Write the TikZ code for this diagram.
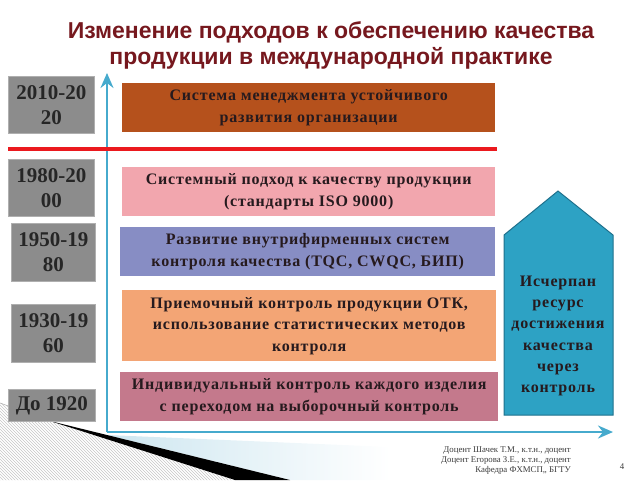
\documentclass[tikz,border=0pt]{standalone}
\usepackage{fontspec}
\setmainfont{Liberation Serif}
\newfontfamily\titlefont{Liberation Sans}
\newfontfamily\boxfont[LetterSpace=5]{Liberation Serif}
\usetikzlibrary{arrows.meta,patterns}
\definecolor{titlered}{RGB}{118,24,30}
\definecolor{yeargray}{RGB}{140,140,140}
\definecolor{yearedge}{RGB}{175,175,175}
\definecolor{cbrown}{RGB}{181,81,28}
\definecolor{cpink}{RGB}{242,166,174}
\definecolor{cslate}{RGB}{135,141,196}
\definecolor{corange}{RGB}{243,165,117}
\definecolor{cmauve}{RGB}{196,121,140}
\definecolor{boxtext}{RGB}{38,26,30}
\definecolor{pentfill}{RGB}{45,162,196}
\definecolor{pentedge}{RGB}{30,112,140}
\definecolor{axisblue}{RGB}{70,170,205}
\definecolor{redline}{RGB}{235,25,30}
\definecolor{paleblue}{RGB}{205,230,240}
\definecolor{foot}{RGB}{60,60,60}
\begin{document}
\begin{tikzpicture}[x=1pt,y=-1pt,
  yearbox/.style={fill=yeargray, draw=yearedge, line width=0.8pt, anchor=north west,
    inner sep=0pt, align=center, text=black!85,
    font=\bfseries\fontsize{21}{25}\selectfont},
  cbox/.style={anchor=north west, inner sep=0pt, align=center, text=boxtext,
    minimum height=49pt, font=\boxfont\bfseries\fontsize{16}{21.5}\selectfont},
  axisline/.style={draw=axisblue, line width=2.5pt,
    -{Stealth[length=15pt,width=13pt,inset=5pt]}},
  pentshape/.style={fill=pentfill, draw=pentedge, line width=1pt},
  penttext/.style={align=center, text=boxtext, font=\boxfont\bfseries\fontsize{16}{21.3}\selectfont},
  foottext/.style={align=right, text=foot, font=\fontsize{8.8}{10}\selectfont, inner sep=0pt}]
\useasboundingbox (0,0) rectangle (640,480);

% decoration bottom-left
\shade[left color=paleblue, right color=white] (107,435) -- (390,447) -- (390,480) -- (290,480) -- cycle;
\fill[pattern=north west lines, pattern color=gray!45] (0,403) -- (50,421) -- (235,480) -- (0,480) -- cycle;
\draw[gray!60, line width=0.6pt] (0,403) -- (50,421);
\fill[black] (50,421) -- (290,480) -- (235,480) -- cycle;

% title
\node[align=center, text=titlered, font=\titlefont\bfseries\fontsize{23}{26}\selectfont] (title) at (331,45)
  {Изменение подходов к обеспечению качества\\продукции в международной практике};

% axes
\coordinate (o) at (107,432);
\coordinate (ytip) at (107,73);
\coordinate (xtip) at (613,432);
\draw[axisline] (o) -- (ytip);
\draw[axisline] (o) -- (xtip);

% red line
\coordinate (r1) at (8,149);
\coordinate (r2) at (497,149);
\draw[redline, line width=4pt] (r1) -- (r2);

% year boxes
\node[yearbox, minimum width=86pt, minimum height=57pt] (y1) at (8,76) {2010-20\\20};
\node[yearbox, minimum width=86pt, minimum height=57pt] (y2) at (8,159) {1980-20\\00};
\node[yearbox, minimum width=84pt, minimum height=58pt] (y3) at (11,223) {1950-19\\80};
\node[yearbox, minimum width=84pt, minimum height=58pt] (y4) at (11,304) {1930-19\\60};
\node[yearbox, minimum width=87pt, minimum height=32pt] (y5) at (8,389) {До 1920};

% content boxes
\node[cbox, fill=cbrown, minimum width=373pt] (b1) at (122,83)
  {Система менеджмента устойчивого\\развития организации};
\node[cbox, fill=cpink, minimum width=373pt] (b2) at (122,167)
  {Системный подход к качеству продукции\\(стандарты ISO 9000)};
\node[cbox, fill=cslate, minimum width=375pt] (b3) at (120,227)
  {Развитие внутрифирменных систем\\контроля качества (TQC, CWQC, БИП)};
\node[cbox, fill=corange, minimum width=374pt, minimum height=71pt] (b4) at (122,290)
  {Приемочный контроль продукции ОТК,\\использование статистических методов\\контроля};
\node[cbox, fill=cmauve, minimum width=378pt] (b5) at (120,372)
  {Индивидуальный контроль каждого изделия\\с переходом на выборочный контроль};

% pentagon
\path[pentshape] (504,415) -- (504,235) -- (558,191) -- (613,235) -- (613,415) -- cycle;
\node[penttext] (pt) at (558,336)
  {Исчерпан\\ресурс\\достижения\\качества\\через\\контроль};

% footer
\node[foottext, anchor=north east] (foot) at (571,447)
  {Доцент Шачек Т.М., к.т.н., доцент\\Доцент Егорова З.Е., к.т.н., доцент\\Кафедра ФХМСП,, БГТУ};
\node[foottext] (pnum) at (622,467) {4};
\end{tikzpicture}
\end{document}
